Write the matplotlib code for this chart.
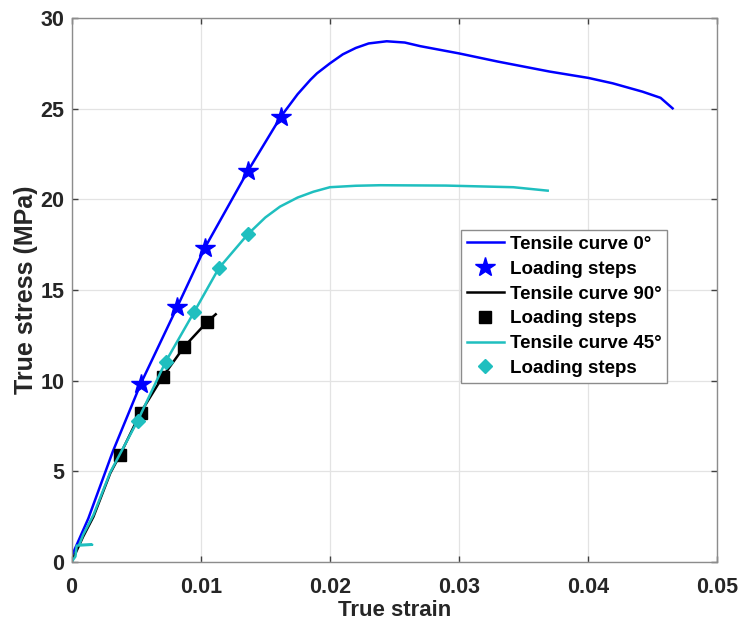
import numpy as np
import matplotlib
matplotlib.use('Agg')
from matplotlib import pyplot as plt

plt.rcParams['font.family'] = ['Liberation Sans', 'DejaVu Sans']
plt.rcParams['font.weight'] = 'bold'

# Tensile curve 0 deg
strain_0 = [0.0, 0.0013, 0.0032, 0.00535, 0.00819, 0.01033, 0.01364, 0.0162, 0.0175, 0.0185,
            0.019, 0.020, 0.021, 0.022, 0.023, 0.0244, 0.0258, 0.027, 0.0285, 0.030,
            0.033, 0.037, 0.040, 0.0419, 0.0442, 0.0456, 0.04653]
stress_0 = [0.3, 2.4, 6.1, 9.82, 14.08, 17.34, 21.55, 24.56, 25.8, 26.6,
            26.95, 27.5, 28.0, 28.35, 28.6, 28.72, 28.65, 28.45, 28.25, 28.05,
            27.6, 27.05, 26.7, 26.4, 25.94, 25.6, 25.02]
steps_0_x = [0.00535, 0.00819, 0.01033, 0.01364, 0.0162]
steps_0_y = [9.82, 14.08, 17.34, 21.55, 24.56]

# Tensile curve 90 deg
strain_90 = [0.0, 0.0009, 0.0017, 0.003, 0.00375, 0.00535, 0.00706, 0.00873, 0.01051, 0.01116]
stress_90 = [0.0, 1.4, 2.5, 4.9, 5.9, 8.24, 10.22, 11.88, 13.25, 13.66]
steps_90_x = [0.00375, 0.00535, 0.00706, 0.00873, 0.01051]
steps_90_y = [5.9, 8.24, 10.22, 11.88, 13.25]

# Tensile curve 45 deg
strain_45 = [0.0, 0.0003, 0.0004, 0.0016, 0.0006, 0.0009, 0.0017, 0.003, 0.00512, 0.00729,
             0.0095, 0.0114, 0.01364, 0.015, 0.01614, 0.0175, 0.01872, 0.020, 0.022, 0.0239,
             0.029, 0.0342, 0.03686]
stress_45 = [0.0, 0.3, 0.9, 0.95, 0.95, 1.5, 2.6, 4.95, 7.79, 11.05,
             13.8, 16.2, 18.07, 19.0, 19.6, 20.1, 20.42, 20.67, 20.75, 20.78,
             20.76, 20.67, 20.48]
steps_45_x = [0.00512, 0.00729, 0.0095, 0.0114, 0.01364]
steps_45_y = [7.79, 11.05, 13.8, 16.2, 18.07]

cyan = '#1fbfbf'

fig = plt.figure(figsize=(7.39, 6.23), dpi=100)
ax = fig.add_axes([0.0968, 0.098, 0.874, 0.873])

ax.plot(strain_0, stress_0, color='blue', lw=1.8, label='Tensile curve 0°')
ax.plot(steps_0_x, steps_0_y, ls='none', marker='*', color='blue', ms=15, label='Loading steps')
ax.plot(strain_90, stress_90, color='black', lw=1.8, label='Tensile curve 90°')
ax.plot(steps_90_x, steps_90_y, ls='none', marker='s', color='black', ms=8, label='Loading steps')
ax.plot(strain_45, stress_45, color=cyan, lw=1.8, label='Tensile curve 45°')
ax.plot(steps_45_x, steps_45_y, ls='none', marker='D', color=cyan, ms=7, label='Loading steps')

ax.set_xlim(0, 0.05)
ax.set_ylim(0, 30)
ax.set_xticks([0, 0.01, 0.02, 0.03, 0.04, 0.05])
ax.set_xticklabels(['0', '0.01', '0.02', '0.03', '0.04', '0.05'])
ax.set_yticks([0, 5, 10, 15, 20, 25, 30])
ax.grid(True, color='#e3e3e3', lw=0.9)
ax.set_axisbelow(True)
for s in ax.spines.values():
    s.set_color('#8c8c8c')
    s.set_linewidth(1.0)
ax.tick_params(direction='in', length=4, width=1, colors='#404040', labelsize=15.5,
               top=True, right=True)
ax.tick_params(axis='x', pad=11)
ax.tick_params(axis='y', pad=5)
for lab in ax.get_xticklabels() + ax.get_yticklabels():
    lab.set_color('#262626')
    lab.set_fontweight('bold')

ax.set_xlabel('True strain', fontsize=16, fontweight='bold', color='#262626', labelpad=1)
ax.set_ylabel('True stress (MPa)', fontsize=18, fontweight='bold', color='#262626', labelpad=2)

leg = ax.legend(loc='upper left', bbox_to_anchor=(0.603, 0.61), fontsize=13.5,
                frameon=True, fancybox=False, edgecolor='#8c8c8c', framealpha=1,
                handlelength=2.0, handletextpad=0.3, labelspacing=0.41, borderpad=0.3,
                borderaxespad=0, numpoints=1)
leg.get_frame().set_linewidth(1.0)
for t in leg.get_texts():
    t.set_fontweight('bold')

fig.savefig('out.png', dpi=100, facecolor='white')
